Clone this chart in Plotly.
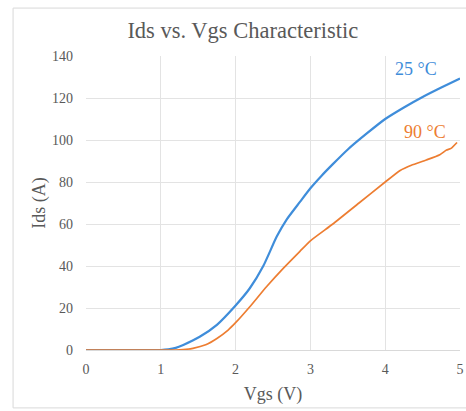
import plotly.graph_objects as go

# Data
vgs_25 = [0, 0.5, 1.0, 1.1, 1.2, 1.3, 1.52, 1.75, 2.0, 2.19, 2.37, 2.55, 2.68, 2.86, 3.0, 3.15, 3.3, 3.5, 3.75, 4.0, 4.25, 4.5, 4.75, 5.0]
ids_25 = [0, 0, 0, 0.3, 1.0, 2.4, 6.3, 12, 21.2, 29.4, 40, 54, 62, 70.5, 77, 83, 88.5, 95.5, 103, 110, 115.5, 120.5, 125, 129.3]

vgs_90 = [0, 0.5, 1.0, 1.2, 1.3, 1.43, 1.6, 1.75, 1.9, 2.0, 2.19, 2.41, 2.64, 2.86, 3.0, 3.3, 3.65, 4.0, 4.2, 4.35, 4.55, 4.73, 4.82, 4.88, 4.96]
ids_90 = [0, 0, 0, 0, 0.2, 0.8, 2.5, 5.5, 9.5, 13, 20.6, 30, 39, 47, 52, 60, 70, 80, 85.5, 88, 90.5, 93, 95.2, 96, 98.8]

x_ticks = [0, 1, 2, 3, 4, 5]
y_ticks = [0, 20, 40, 60, 80, 100, 120, 140]

label_25 = "25 °C"
label_90 = "90 °C"
blue = "#3F8DDA"
orange = "#ED7D31"
grey = "#595959"
font_family = "Liberation Serif, Times New Roman, serif"

fig = go.Figure()
fig.add_trace(go.Scatter(x=vgs_25, y=ids_25, mode="lines", name=label_25,
                         line=dict(color=blue, width=2.2, shape="spline", smoothing=0.6)))
fig.add_trace(go.Scatter(x=vgs_90, y=ids_90, mode="lines", name=label_90,
                         line=dict(color=orange, width=1.7, shape="spline", smoothing=0.5)))

fig.add_annotation(x=4.41, y=133.8, text=label_25, showarrow=False,
                   font=dict(color=blue, size=18, family=font_family))
fig.add_annotation(x=4.53, y=103.8, text=label_90, showarrow=False,
                   font=dict(color=orange, size=18, family=font_family))

# chart frame
fig.add_shape(type="rect", xref="paper", yref="paper",
              x0=-0.195, x1=1.06, y0=-0.197, y1=1.163,
              line=dict(color="#D9D9D9", width=1), layer="below")

fig.update_layout(
    width=466, height=411,
    margin=dict(l=86, r=6, t=56, b=61),
    paper_bgcolor="white", plot_bgcolor="white",
    showlegend=False,
    font=dict(family=font_family, color=grey),
    title=dict(text="Ids vs. Vgs Characteristic", x=0.521, xanchor="center",
               y=0.927, yanchor="middle",
               font=dict(size=22.5, color=grey, family=font_family)),
)
fig.update_xaxes(range=[0, 5], tickvals=x_ticks, showgrid=True, gridcolor="#E3E3E3",
                 gridwidth=1, zeroline=False, showline=True, linecolor="#D9D9D9",
                 mirror=False, ticks="", ticklabelstandoff=6, automargin=False,
                 tickfont=dict(size=14, color=grey, family=font_family),
                 title=dict(text="Vgs (V)", font=dict(size=18, color=grey, family=font_family), standoff=11))
fig.update_yaxes(range=[0, 140], tickvals=y_ticks, showgrid=True, gridcolor="#E3E3E3",
                 gridwidth=1, zeroline=False, showline=False, ticks="", automargin=False,
                 ticklabelstandoff=12,
                 tickfont=dict(size=14, color=grey, family=font_family),
                 title=dict(text="Ids (A)", font=dict(size=18, color=grey, family=font_family), standoff=1))

fig.write_html("out.html", config={"displayModeBar": False},
               post_script="document.body.style.margin='0';")
